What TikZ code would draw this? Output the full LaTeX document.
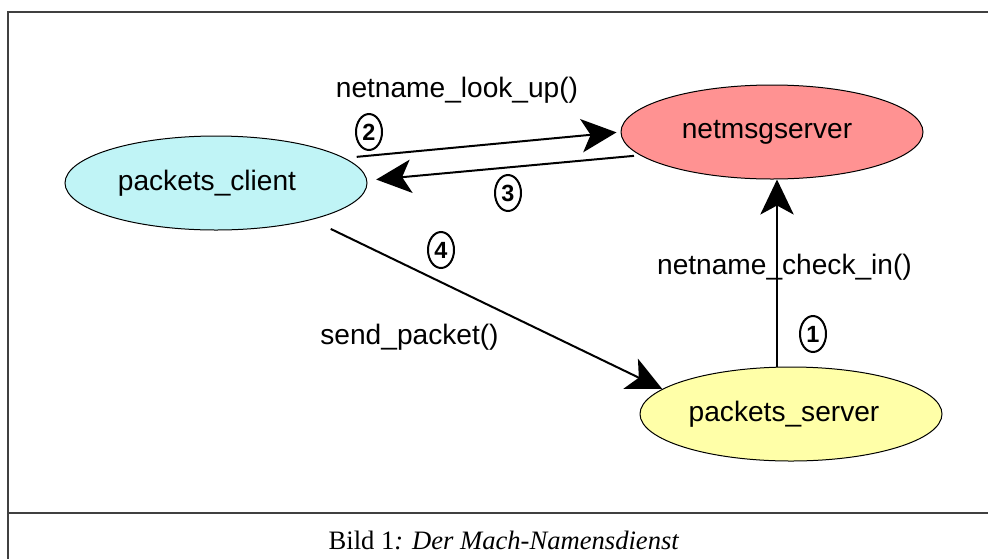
\documentclass[tikz,border=0pt]{standalone}
\usepackage{fontspec}
\setmainfont{Liberation Sans}
\newfontfamily\capfont{Liberation Serif}
\usetikzlibrary{shapes.geometric}
\usetikzlibrary{arrows.meta}

\definecolor{clientcol}{RGB}{192,244,246}
\definecolor{msgcol}{RGB}{255,146,146}
\definecolor{servercol}{RGB}{255,255,168}

\tikzset{
  proc/.style={ellipse, draw=black, line width=0.3mm, minimum width=90.6mm,
    minimum height=28.2mm, inner sep=0pt, font=\fontsize{24}{28}\selectfont},
  call/.style={font=\fontsize{24}{28}\selectfont, inner sep=0pt},
  num/.style={ellipse, draw=black, line width=0.6mm, minimum width=7.8mm,
    minimum height=10.8mm, inner sep=0pt, font=\fontsize{20}{22}\selectfont\bfseries},
  arr/.style={line width=0.6mm, -{Stealth[length=10.5mm, width=10mm, inset=2.7mm]}},
  frame/.style={draw=black!75, line width=0.6mm}
}

\begin{document}
\begin{tikzpicture}[x=0.3mm, y=-0.3mm]
  \useasboundingbox (0,0) rectangle (988,559);

  % frame and caption line
  \draw[frame] (8,559) -- (8,12) -- (988,12);
  \draw[frame] (8,513) -- (988,513);
  \node[inner sep=0pt, font=\capfont\fontsize{22.7}{26}\selectfont] (caption) at (504,540)
    {Bild 1\textit{: Der Mach-Namensdienst}};

  % processes
  \node[proc, fill=clientcol] (client) at (216,183) {packets\_client\hspace*{5.4mm}};
  \node[proc, fill=msgcol] (netmsg) at (772,132) {netmsgserver\hspace*{3mm}};
  \node[proc, fill=servercol] (server) at (791,414) {packets\_server\hspace*{4.2mm}};

  % calls
  \node[call] (lookup) at (457,90) {netname\_look\_up()};
  \node[call] (checkin) at (784.5,267) {netname\_check\_in()};
  \node[call] (send) at (409.5,337) {send\_packet()};

  % step numbers
  \foreach \n/\x/\y in {1/813/334, 2/369/132, 3/508/193, 4/441/250} {
    \node[num] (n\n) at (\x,\y) {\n};
  }

  % messages
  \draw[arr] ([shift={(-14,0)}]server.north) -- ([shift={(-14,0)}]server.north |- netmsg.south);
  \draw[arr, shorten <=3.6mm, shorten >=1.2mm] (client.11.5) -- (netmsg.west);
  \draw[arr, shorten <=1.8mm, shorten >=2.7mm] (netmsg.190.4) -- (client.1);
  \draw[arr, shorten <=6.3mm] (client.-21.1) -- (server.169.4);
\end{tikzpicture}
\end{document}
